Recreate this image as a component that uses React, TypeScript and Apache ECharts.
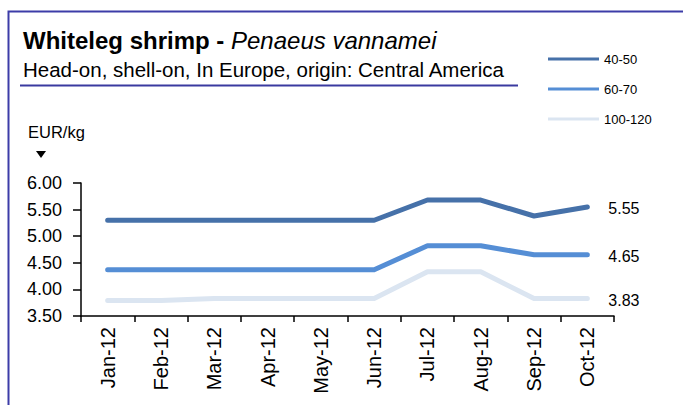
import React, { useEffect, useRef } from "react";
import * as echarts from "echarts";

const categories = ["Jan-12", "Feb-12", "Mar-12", "Apr-12", "May-12", "Jun-12", "Jul-12", "Aug-12", "Sep-12", "Oct-12"];
const seriesNames = ["40-50", "60-70", "100-120"];
const size4050 = [5.3, 5.3, 5.3, 5.3, 5.3, 5.3, 5.68, 5.68, 5.38, 5.55];
const size6070 = [4.37, 4.37, 4.37, 4.37, 4.37, 4.37, 4.82, 4.82, 4.65, 4.65];
const size100120 = [3.79, 3.79, 3.83, 3.83, 3.83, 3.83, 4.33, 4.33, 3.83, 3.83];
const seriesColors = ["#4671a9", "#558ed5", "#dbe5f1"];
const yMin = 3.5;
const yMax = 6.0;
const yInterval = 0.5;

const FONT = "Liberation Sans, Arial, sans-serif";

export default function App() {
  const ref = useRef<HTMLDivElement>(null);

  useEffect(() => {
    if (!ref.current) return;
    const chart = echarts.init(ref.current, undefined, { renderer: "svg" });
    const allData = [size4050, size6070, size100120];
    const series = allData.map((d, i) => ({
      name: seriesNames[i],
      type: "line",
      data: d,
      showSymbol: false,
      symbol: "none",
      color: seriesColors[i],
      lineStyle: { width: 5, color: seriesColors[i], cap: "round", join: "round" },
      endLabel: {
        show: true,
        formatter: () => d[d.length - 1].toFixed(2),
        distance: 21,
        offset: [0, 2],
        color: "#000",
        fontSize: 16,
        fontFamily: FONT,
      },
      z: 3 - i,
    }));

    chart.setOption({
      animation: false,
      backgroundColor: "#ffffff",
      textStyle: { fontFamily: FONT },
      grid: { left: 81, right: 69, top: 183, bottom: 89, containLabel: false },
      legend: {
        orient: "vertical",
        left: 543,
        top: 46,
        icon: "rect",
        itemWidth: 51,
        itemHeight: 3,
        itemGap: 14,
        data: seriesNames,
        textStyle: { fontSize: 13, lineHeight: 16, color: "#000", fontFamily: FONT },
      },
      xAxis: {
        type: "category",
        data: categories,
        boundaryGap: true,
        axisLine: { show: true, lineStyle: { color: "#000", width: 1.5 } },
        axisTick: { show: true, length: 6, lineStyle: { color: "#000", width: 1.5 } },
        axisLabel: { rotate: 90, margin: 11, fontSize: 20, color: "#000", fontFamily: FONT, interval: 0 },
        splitLine: { show: false },
      },
      yAxis: {
        type: "value",
        min: yMin,
        max: yMax,
        interval: yInterval,
        axisLine: { show: true, lineStyle: { color: "#000", width: 1.5 } },
        axisTick: { show: true, length: 8, lineStyle: { color: "#000", width: 1.5 } },
        axisLabel: {
          margin: 19,
          fontSize: 18,
          color: "#000",
          fontFamily: FONT,
          formatter: (v: number) => v.toFixed(2),
        },
        splitLine: { show: false },
      },
      graphic: [
        {
          type: "rect",
          shape: { x: 8.5, y: 11.5, width: 720, height: 430 },
          style: { fill: "none", stroke: "#3c3ca8", lineWidth: 2 },
          silent: true,
        },
        {
          type: "text",
          x: 23,
          y: 40.5,
          style: {
            text: "{b|Whiteleg shrimp - }{i|Penaeus vannamei}",
            verticalAlign: "middle",
            rich: {
              b: { fontSize: 24, fontWeight: "bold", fontFamily: FONT, fill: "#000", color: "#000" },
              i: { fontSize: 24, fontStyle: "italic", fontFamily: FONT, fill: "#000", color: "#000" },
            },
          },
        },
        {
          type: "text",
          x: 23,
          y: 69.5,
          style: {
            text: "Head-on, shell-on, In Europe, origin: Central America",
            fontSize: 20.5,
            fontFamily: FONT,
            fill: "#000",
            verticalAlign: "middle",
          },
        },
        {
          type: "line",
          shape: { x1: 20, y1: 85.5, x2: 518, y2: 85.5 },
          style: { stroke: "#3a3aa0", lineWidth: 2 },
        },
        {
          type: "text",
          x: 28,
          y: 131.5,
          style: {
            text: "EUR/kg",
            fontSize: 16.5,
            fontFamily: FONT,
            fill: "#000",
            verticalAlign: "middle",
          },
        },
        {
          type: "polygon",
          shape: { points: [[36, 151], [46, 151], [41, 158]] },
          style: { fill: "#000" },
        },
      ],
      series,
    });

    return () => chart.dispose();
  }, []);

  return (
    <div
      ref={ref}
      style={{ position: "fixed", left: 0, top: 0, width: 683, height: 405 }}
    />
  );
}
